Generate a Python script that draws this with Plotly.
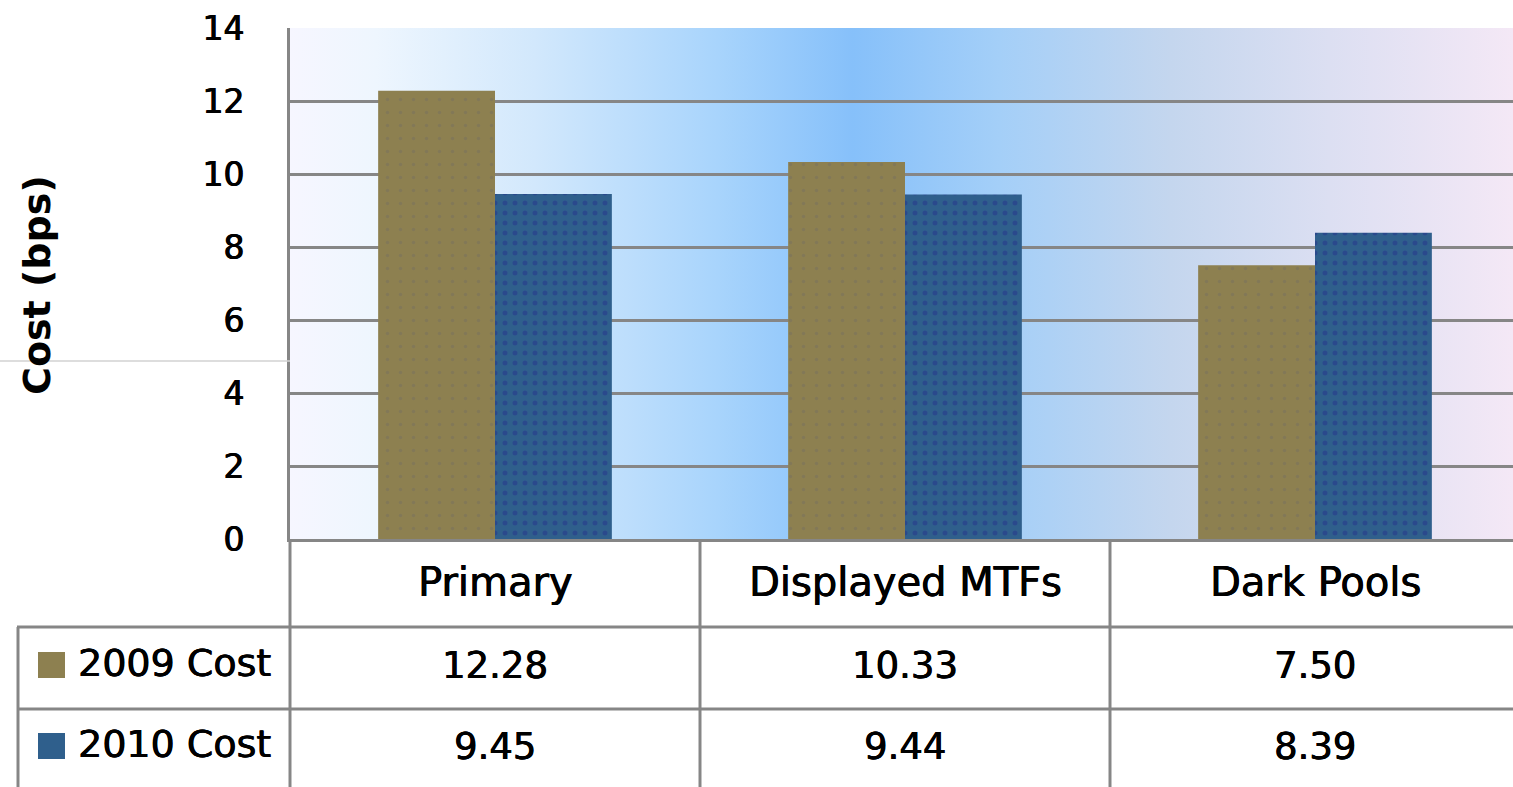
import base64
import plotly.graph_objects as go

# ---- data -------------------------------------------------------------
venues = ["Primary", "Displayed MTFs", "Dark Pools"]
cost_2009 = [12.28, 10.33, 7.50]
cost_2010 = [9.45, 9.44, 8.39]
series_names = ["2009 Cost", "2010 Cost"]
y_ticks = [0, 2, 4, 6, 8, 10, 12, 14]

# ---- geometry / styling ------------------------------------------------
W, H = 1513, 787
L, T, B = 290, 28, 248          # margins (px)
PW, PH = W - L, H - T - B       # plot area size
OLIVE = "#8d8050"
BLUE = "#2f5f8c"
GRID = "#868686"
FONT = "DejaVu Sans"
HEAVY = "0.5px 0 0 #000, -0.3px 0 0 #000"   # slightly heavier text strokes


def px_x(px):
    return (px - L) / PW


def px_y(py):
    return (H - B - py) / PH


# horizontal gradient for the plot background
stops = [(0.00, "#f6f6ff"), (0.07, "#eef6fe"), (0.20, "#d2e8fc"),
         (0.35, "#a8d4fc"), (0.46, "#86c0fa"), (0.58, "#a4cff8"),
         (0.72, "#c4d6ee"), (0.85, "#dcdff2"), (1.00, "#f4e8f6")]
svg = ('<svg xmlns="http://www.w3.org/2000/svg" width="400" height="100" '
       'preserveAspectRatio="none"><defs><linearGradient id="g" x1="0" x2="1" '
       'y1="0" y2="0">'
       + "".join(f'<stop offset="{o}" stop-color="{c}"/>' for o, c in stops)
       + '</linearGradient></defs><rect width="400" height="100" fill="url(#g)"/></svg>')
bg_uri = "data:image/svg+xml;base64," + base64.b64encode(svg.encode()).decode()

fig = go.Figure()
fig.add_trace(go.Bar(
    x=venues, y=cost_2009, name=series_names[0],
    marker=dict(color=OLIVE, line=dict(width=0),
                pattern=dict(shape=".", fgcolor="#77705e", bgcolor=OLIVE,
                             size=13, solidity=0.06)),
))
fig.add_trace(go.Bar(
    x=venues, y=cost_2010, name=series_names[1],
    marker=dict(color=BLUE, line=dict(width=0),
                pattern=dict(shape=".", fgcolor="#26338c", bgcolor=BLUE,
                             size=10, solidity=0.2)),
))

# category axis runs slightly past the right edge of the page
right_cut = 2.5 - (1520 - W) / 410

fig.update_layout(
    width=W, height=H,
    margin=dict(l=L, r=0, t=T, b=B, pad=0),
    paper_bgcolor="white", plot_bgcolor="white",
    showlegend=False,
    barmode="group", bargap=0.43, bargroupgap=0,
    font=dict(family=FONT, color="black"),
    xaxis=dict(range=[-0.5, right_cut], showticklabels=False, ticks="",
               showgrid=False, showline=True, linecolor=GRID, linewidth=3,
               zeroline=False),
    yaxis=dict(range=[0, 14], tickvals=y_ticks, ticktext=[str(v) for v in y_ticks],
               tickfont=dict(size=33, family=FONT, color="black", shadow=HEAVY),
               ticks="", ticklabelstandoff=36,
               showgrid=True, gridcolor=GRID, gridwidth=3,
               showline=True, linecolor=GRID, linewidth=3, zeroline=False),
    images=[dict(source=bg_uri, xref="paper", yref="paper", x=0, y=1,
                 sizex=1, sizey=1, sizing="stretch", layer="below")],
)

shapes = []
line = dict(color=GRID, width=3)
# data table grid
for vx in (290, 700, 1110):
    shapes.append(dict(type="line", xref="paper", yref="paper",
                       x0=px_x(vx), x1=px_x(vx), y0=px_y(539), y1=px_y(H + 5), line=line))
shapes.append(dict(type="line", xref="paper", yref="paper",
                   x0=px_x(18), x1=px_x(18), y0=px_y(627), y1=px_y(H + 5), line=line))
for hy in (627, 709):
    shapes.append(dict(type="line", xref="paper", yref="paper",
                       x0=px_x(17), x1=px_x(W + 5), y0=px_y(hy), y1=px_y(hy), line=line))
# faint rule left of the axis
shapes.append(dict(type="line", xref="paper", yref="paper",
                   x0=px_x(0), x1=px_x(290), y0=px_y(361), y1=px_y(361),
                   line=dict(color="#d2d2d2", width=1.5)))
# legend keys in the table
row_centers = [665, 746]
for yc, col in zip(row_centers, [OLIVE, BLUE]):
    shapes.append(dict(type="rect", xref="paper", yref="paper",
                       x0=px_x(38), x1=px_x(65), y0=px_y(yc - 13), y1=px_y(yc + 13),
                       fillcolor=col, line=dict(width=0)))
fig.update_layout(shapes=shapes)

ann = []
# y axis title
ann.append(dict(text="<b>Cost (bps)</b>", textangle=-90, xref="paper", yref="paper",
                x=px_x(37), y=px_y(285), xanchor="center", yanchor="middle",
                showarrow=False, font=dict(size=38, family=FONT, color="black")))
# table header and values
for i, v in enumerate(venues):
    ann.append(dict(text=v, xref="x", yref="paper", x=i, y=px_y(582),
                    xanchor="center", yanchor="middle", showarrow=False,
                    font=dict(size=40, family=FONT, shadow=HEAVY)))
for yc, name, vals in zip(row_centers, series_names, [cost_2009, cost_2010]):
    ann.append(dict(text=name, xref="paper", yref="paper", x=px_x(76), y=px_y(yc - 2),
                    xanchor="left", yanchor="middle", showarrow=False,
                    font=dict(size=38, family=FONT, shadow=HEAVY)))
    for i, val in enumerate(vals):
        ann.append(dict(text=f"{val:.2f}", xref="x", yref="paper", x=i, y=px_y(yc),
                        xanchor="center", yanchor="middle", showarrow=False,
                        font=dict(size=37, family=FONT, shadow=HEAVY)))
fig.update_layout(annotations=ann)

fig.write_html("out.html")
